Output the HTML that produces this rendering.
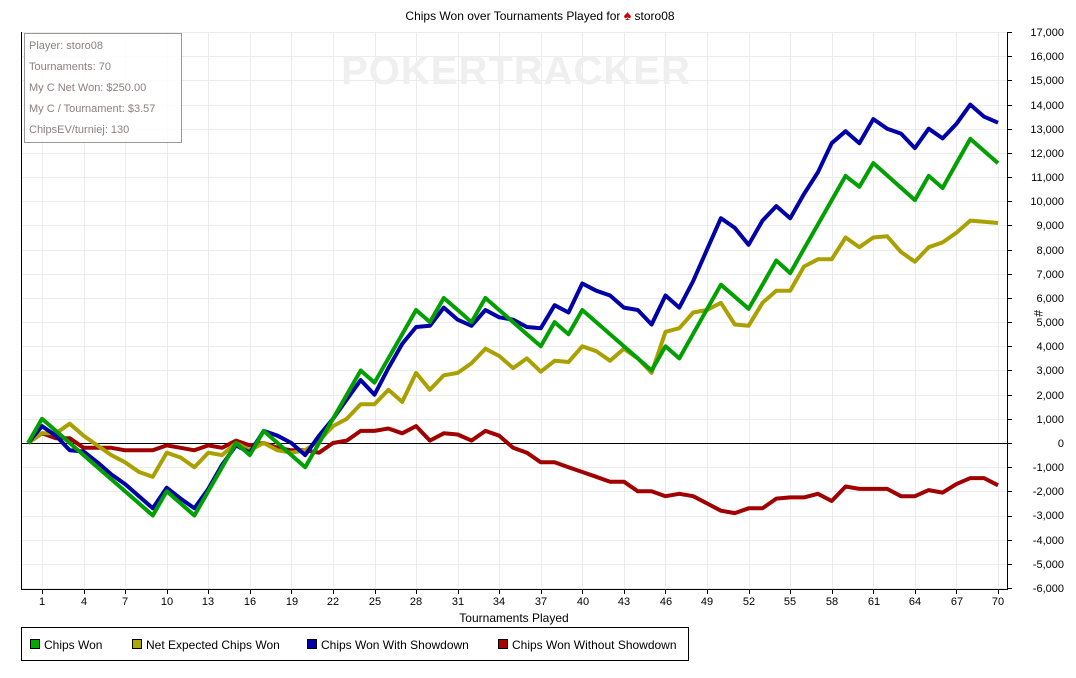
<!DOCTYPE html>
<html><head><meta charset="utf-8"><style>
body{margin:0;background:#fff;width:1076px;height:673px;overflow:hidden;font-family:"Liberation Sans",sans-serif}
svg text{font-family:"Liberation Sans",sans-serif}
</style></head><body>
<svg id="s" width="1076" height="673" xmlns="http://www.w3.org/2000/svg">
<rect width="1076" height="673" fill="#fff"/>
<g id="grid" stroke="#ececec" stroke-width="1"></g>
<text x="516" y="84" font-size="40" font-weight="bold" fill="#efefef" text-anchor="middle" letter-spacing="1">POKERTRACKER</text>
<line x1="21" y1="443.5" x2="1007" y2="443.5" stroke="#000"/>
<g id="series" fill="none" stroke-width="4" stroke-linejoin="round"></g>
<line x1="21.5" y1="32" x2="21.5" y2="590" stroke="#000"/>
<line x1="21" y1="589.5" x2="1007" y2="589.5" stroke="#000"/>
<line x1="1007.5" y1="32" x2="1007.5" y2="590" stroke="#000"/>
<g id="ticks" stroke="#000"></g>
<text x="540" y="20" font-size="12" text-anchor="middle">Chips Won over Tournaments Played for <tspan fill="#c00" font-size="14">♠</tspan> storo08</text>
<g font-size="11" text-anchor="end" fill="#000">
<text x="1064" y="36">17,000</text><text x="1064" y="60">16,000</text><text x="1064" y="84">15,000</text><text x="1064" y="109">14,000</text><text x="1064" y="133">13,000</text><text x="1064" y="157">12,000</text><text x="1064" y="181">11,000</text><text x="1064" y="205">10,000</text><text x="1064" y="229">9,000</text><text x="1064" y="254">8,000</text><text x="1064" y="278">7,000</text><text x="1064" y="302">6,000</text><text x="1064" y="326">5,000</text><text x="1064" y="350">4,000</text><text x="1064" y="374">3,000</text><text x="1064" y="399">2,000</text><text x="1064" y="423">1,000</text><text x="1064" y="447">0</text><text x="1064" y="471">-1,000</text><text x="1064" y="495">-2,000</text><text x="1064" y="519">-3,000</text><text x="1064" y="544">-4,000</text><text x="1064" y="568">-5,000</text><text x="1064" y="592">-6,000</text>
</g>
<g font-size="11" text-anchor="middle">
<text x="42" y="605">1</text><text x="84" y="605">4</text><text x="125" y="605">7</text><text x="167" y="605">10</text><text x="208" y="605">13</text><text x="250" y="605">16</text><text x="292" y="605">19</text><text x="333" y="605">22</text><text x="375" y="605">25</text><text x="416" y="605">28</text><text x="458" y="605">31</text><text x="499" y="605">34</text><text x="541" y="605">37</text><text x="583" y="605">40</text><text x="624" y="605">43</text><text x="666" y="605">46</text><text x="707" y="605">49</text><text x="749" y="605">52</text><text x="790" y="605">55</text><text x="832" y="605">58</text><text x="874" y="605">61</text><text x="915" y="605">64</text><text x="957" y="605">67</text><text x="998" y="605">70</text>
</g>
<text x="514" y="622" font-size="12" text-anchor="middle">Tournaments Played</text>
<text x="1034" y="310" font-size="12" transform="rotate(90 1034 310)">#</text>
<rect x="24.5" y="33.5" width="157" height="109" fill="#fff" fill-opacity="0.85" stroke="#999"/>
<g font-size="11" fill="#8c7f7f">
<text x="29" y="49">Player: storo08</text>
<text x="29" y="70">Tournaments: 70</text>
<text x="29" y="91">My C Net Won: $250.00</text>
<text x="29" y="112">My C / Tournament: $3.57</text>
<text x="29" y="133">ChipsEV/turniej: 130</text>
</g>
<rect x="21.5" y="627.5" width="667" height="33" fill="#fff" stroke="#000"/>
<g font-size="12">
<rect x="30.5" y="639.5" width="9" height="9" fill="#0a0" stroke="#000"/><text x="44" y="649">Chips Won</text>
<rect x="132.5" y="639.5" width="9" height="9" fill="#aa0" stroke="#000"/><text x="146" y="649">Net Expected Chips Won</text>
<rect x="307.5" y="639.5" width="9" height="9" fill="#00a" stroke="#000"/><text x="321" y="649">Chips Won With Showdown</text>
<rect x="498.5" y="639.5" width="9" height="9" fill="#a00" stroke="#000"/><text x="512" y="649">Chips Won Without Showdown</text>
</g>
</svg>
<script>
var X=function(i){return 42+(i-1)*13.855},Y=function(v){return 443-v*0.024174};
var g=document.getElementById('grid'),t=document.getElementById('ticks'),ns='http://www.w3.org/2000/svg';
function ln(p,a,b,c,d){var l=document.createElementNS(ns,'line');l.setAttribute('x1',a);l.setAttribute('y1',b);l.setAttribute('x2',c);l.setAttribute('y2',d);p.appendChild(l);}
for(var v=-6000;v<=17000;v+=1000){var y=Math.round(Y(v))+0.5;ln(g,22,y,1007,y);ln(t,1007,y,1012,y);}
for(var i=1;i<=70;i+=3){var x=Math.round(X(i))+0.5;ln(g,x,32,x,589);ln(t,x,590,x,594);}
function lerp(pts){var o=[];for(var k=0;k<pts.length-1;k++){var a=pts[k],b=pts[k+1];for(var i=a[0];i<b[0];i++)o.push(a[1]+(b[1]-a[1])*(i-a[0])/(b[0]-a[0]));}o.push(pts[pts.length-1][1]);return o;}
var green=lerp([[0,0],[1,1000],[9,-3000],[10,-2000],[12,-3000],[15,0],[16,-500],[17,500],[20,-1000],[24,3000],[25,2500],[28,5500],[29,5000],[30,6000],[32,5000],[33,6000],[37,4000],[38,5000],[39,4500],[40,5500],[45,3000],[46,4000],[47,3500],[50,6550],[52,5550],[54,7550],[55,7030],[59,11050],[60,10600],[61,11580],[64,10050],[65,11050],[66,10550],[68,12580],[70,11580]]);
var blue=[0,700,300,-300,-350,-800,-1300,-1700,-2200,-2700,-1850,-2300,-2700,-1900,-900,-100,-400,500,300,0,-500,300,1000,1800,2600,2000,3100,4100,4800,4850,5600,5100,4850,5500,5200,5100,4800,4750,5700,5400,6600,6300,6100,5600,5500,4900,6100,5600,6700,8000,9300,8900,8200,9200,9800,9300,10300,11200,12400,12900,12400,13400,13000,12800,12200,13000,12600,13200,14000,13500,13250];
var yel=[0,400,400,800,300,-100,-500,-800,-1200,-1400,-400,-600,-1000,-400,-500,0,-300,0,-300,-400,-300,100,700,1000,1600,1600,2200,1700,2900,2200,2800,2900,3300,3900,3600,3100,3500,2950,3400,3350,4000,3800,3400,3900,3500,2900,4600,4750,5400,5500,5800,4900,4850,5800,6300,6300,7300,7600,7600,8500,8100,8500,8550,7900,7500,8100,8300,8700,9200,9150,9100];
var red=[0,400,200,200,-200,-200,-200,-300,-300,-300,-100,-200,-300,-100,-200,100,-100,0,-200,-300,-300,-400,0,100,500,500,600,400,700,100,400,350,100,500,300,-200,-400,-800,-800,-1000,-1200,-1400,-1600,-1600,-2000,-2000,-2200,-2100,-2200,-2500,-2800,-2900,-2700,-2700,-2300,-2250,-2250,-2100,-2400,-1800,-1900,-1900,-1900,-2200,-2200,-1950,-2050,-1700,-1450,-1450,-1750];
var s=document.getElementById('series');
[[red,'#a00000'],[yel,'#aaa000'],[blue,'#0000a8'],[green,'#00a000']].forEach(function(d){var p=document.createElementNS(ns,'polyline');p.setAttribute('points',d[0].map(function(v,i){return X(i).toFixed(1)+','+Y(v).toFixed(1)}).join(' '));p.setAttribute('stroke',d[1]);s.appendChild(p);});
</script>
</body></html>
